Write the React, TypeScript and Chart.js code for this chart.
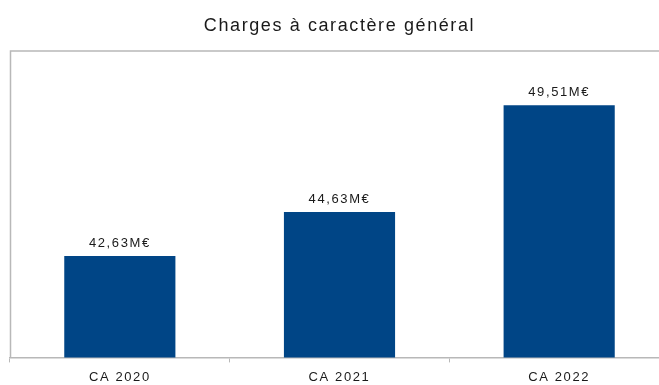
import React, { useEffect, useRef } from "react";
import { Chart, registerables } from "chart.js";

Chart.register(...registerables);

// Budget lines and amounts (millions of euros)
const categories = ["CA 2020", "CA 2021", "CA 2022"];
const charges = [42.63, 44.63, 49.51];
const chartTitle = "Charges à caractère général";

const FONT = "'Liberation Sans', Arial, sans-serif";
const BAR_COLOR = "#004586";
const FRAME_COLOR = "#b8b8b8";
const TEXT_COLOR = "#1a1a1a";
const SPACING = "1.6px";

const formatAmount = (v: number) => v.toFixed(2).replace(".", ",") + "M€";

// Wider tracking for all canvas text
const trackingPlugin = {
  id: "tracking",
  beforeLayout(chart: any) {
    chart.ctx.letterSpacing = SPACING;
  },
  beforeDraw(chart: any) {
    chart.ctx.letterSpacing = SPACING;
  },
};

// Left and top edges of the plot frame
const framePlugin = {
  id: "frame",
  beforeDatasetsDraw(chart: any) {
    const { ctx, chartArea } = chart;
    ctx.save();
    ctx.strokeStyle = FRAME_COLOR;
    ctx.lineWidth = 1.5;
    ctx.beginPath();
    ctx.moveTo(chartArea.left + 0.5, chartArea.bottom);
    ctx.lineTo(chartArea.left + 0.5, chartArea.top + 0.5);
    ctx.lineTo(chartArea.right, chartArea.top + 0.5);
    ctx.stroke();
    ctx.restore();
  },
};

// Amount written above each bar
const valueLabelPlugin = {
  id: "valueLabels",
  afterDatasetsDraw(chart: any) {
    const { ctx } = chart;
    const meta = chart.getDatasetMeta(0);
    const data = chart.data.datasets[0].data as number[];
    ctx.save();
    ctx.letterSpacing = SPACING;
    ctx.font = `13px ${FONT}`;
    ctx.fillStyle = TEXT_COLOR;
    ctx.textAlign = "center";
    ctx.textBaseline = "alphabetic";
    meta.data.forEach((bar: any, i: number) => {
      ctx.fillText(formatAmount(data[i]), bar.x, bar.y - 9);
    });
    ctx.restore();
  },
};

export default function App() {
  const canvasRef = useRef<HTMLCanvasElement | null>(null);

  useEffect(() => {
    const canvas = canvasRef.current;
    if (!canvas) return;
    const chart = new Chart(canvas, {
      type: "bar",
      data: {
        labels: categories,
        datasets: [
          {
            data: charges,
            backgroundColor: BAR_COLOR,
            borderWidth: 0,
            barPercentage: 0.506,
            categoryPercentage: 1,
          },
        ],
      },
      options: {
        responsive: false,
        animation: false,
        devicePixelRatio: 1,
        layout: { padding: { left: 10, right: 11, top: 0, bottom: 0 } },
        plugins: {
          legend: { display: false },
          tooltip: { enabled: false },
          title: {
            display: true,
            text: chartTitle,
            color: TEXT_COLOR,
            font: { family: FONT, size: 18, weight: "normal" },
            padding: { top: 15, bottom: 14 },
          },
        },
        scales: {
          x: {
            grid: {
              display: true,
              drawOnChartArea: false,
              drawTicks: true,
              tickLength: 5,
              color: FRAME_COLOR,
              offset: true,
            },
            border: { display: true, color: FRAME_COLOR, width: 1.5 },
            ticks: {
              color: TEXT_COLOR,
              font: { family: FONT, size: 13 },
              padding: 7,
            },
          },
          y: {
            display: false,
            min: 38,
            max: 52,
          },
        },
      },
      plugins: [trackingPlugin, framePlugin, valueLabelPlugin],
    });
    return () => chart.destroy();
  }, []);

  return (
    <div
      style={{
        position: "absolute",
        left: 0,
        top: 0,
        width: 659,
        height: 385,
        overflow: "hidden",
        background: "#fff",
      }}
    >
      <canvas ref={canvasRef} width={680} height={392} style={{ display: "block" }} />
    </div>
  );
}
